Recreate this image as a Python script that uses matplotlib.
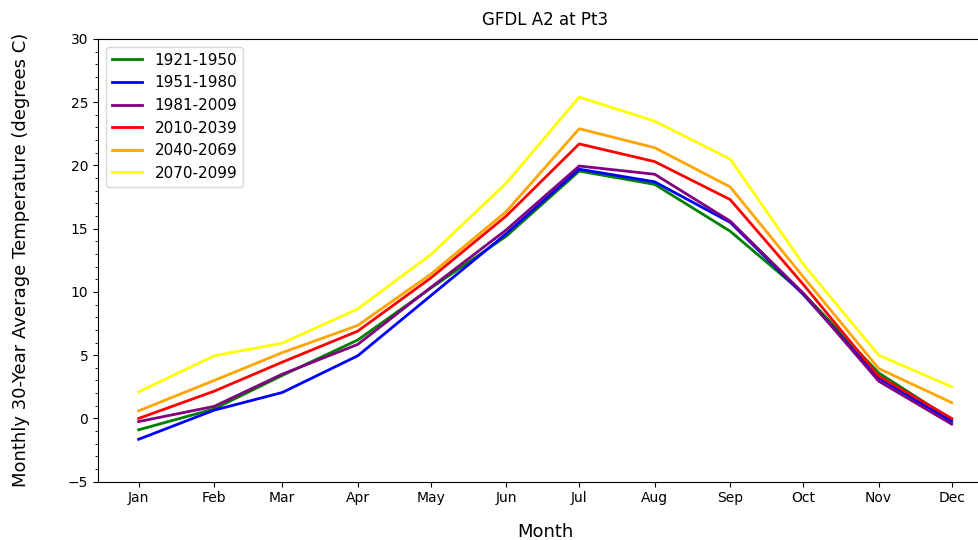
import matplotlib
matplotlib.use("Agg")
import matplotlib.pyplot as plt
import numpy as np
from matplotlib.ticker import AutoMinorLocator

months = ["Jan", "Feb", "Mar", "Apr", "May", "Jun", "Jul", "Aug", "Sep", "Oct", "Nov", "Dec"]
days_in_month = [31, 28, 31, 30, 31, 30, 31, 31, 30, 31, 30, 31]

periods = ["1921-1950", "1951-1980", "1981-2009", "2010-2039", "2040-2069", "2070-2099"]
colors = ["green", "blue", "purple", "red", "orange", "yellow"]

t1921 = [-0.9, 0.75, 3.4, 6.2, 10.3, 14.4, 19.55, 18.5, 14.8, 9.9, 3.6, -0.1]
t1951 = [-1.65, 0.65, 2.05, 4.95, 9.7, 14.6, 19.7, 18.7, 15.5, 9.8, 3.2, -0.25]
t1981 = [-0.25, 0.95, 3.5, 5.85, 10.35, 14.9, 19.95, 19.3, 15.6, 9.9, 2.95, -0.45]
t2010 = [0.0, 2.15, 4.45, 6.9, 11.1, 16.0, 21.7, 20.3, 17.3, 10.6, 3.35, 0.0]
t2040 = [0.6, 3.0, 5.2, 7.35, 11.4, 16.35, 22.9, 21.4, 18.3, 11.2, 3.95, 1.25]
t2070 = [2.1, 4.95, 5.95, 8.65, 12.95, 18.6, 25.4, 23.5, 20.5, 12.2, 5.0, 2.5]
series = [t1921, t1951, t1981, t2010, t2040, t2070]

# day of year for the first of each month
day = np.concatenate([[1], 1 + np.cumsum(days_in_month[:-1])])

fig = plt.figure(figsize=(9.79, 5.4), dpi=100)
# the original figure was cropped on the right, so the axes run past the edge
ax = fig.add_axes([98 / 979, 0.108, 0.9135, 0.82])

for vals, lab, c in zip(series, periods, colors):
    ax.plot(day, vals, color=c, linewidth=2, label=lab)

ax.set_ylim(-5, 30)
ax.set_xticks(day)
ax.set_xticklabels(months)
ax.yaxis.set_minor_locator(AutoMinorLocator(5))
ax.tick_params(labelsize=10)

ax.set_title("GFDL A2 at Pt3", fontsize=12, pad=10)
ax.set_xlabel("Month", fontsize=13, labelpad=13)
ax.set_ylabel("Monthly 30-Year Average Temperature (degrees C)", fontsize=13, labelpad=27)
ax.legend(loc="upper left", fontsize=11)

fig.savefig("out.png", dpi=100)
